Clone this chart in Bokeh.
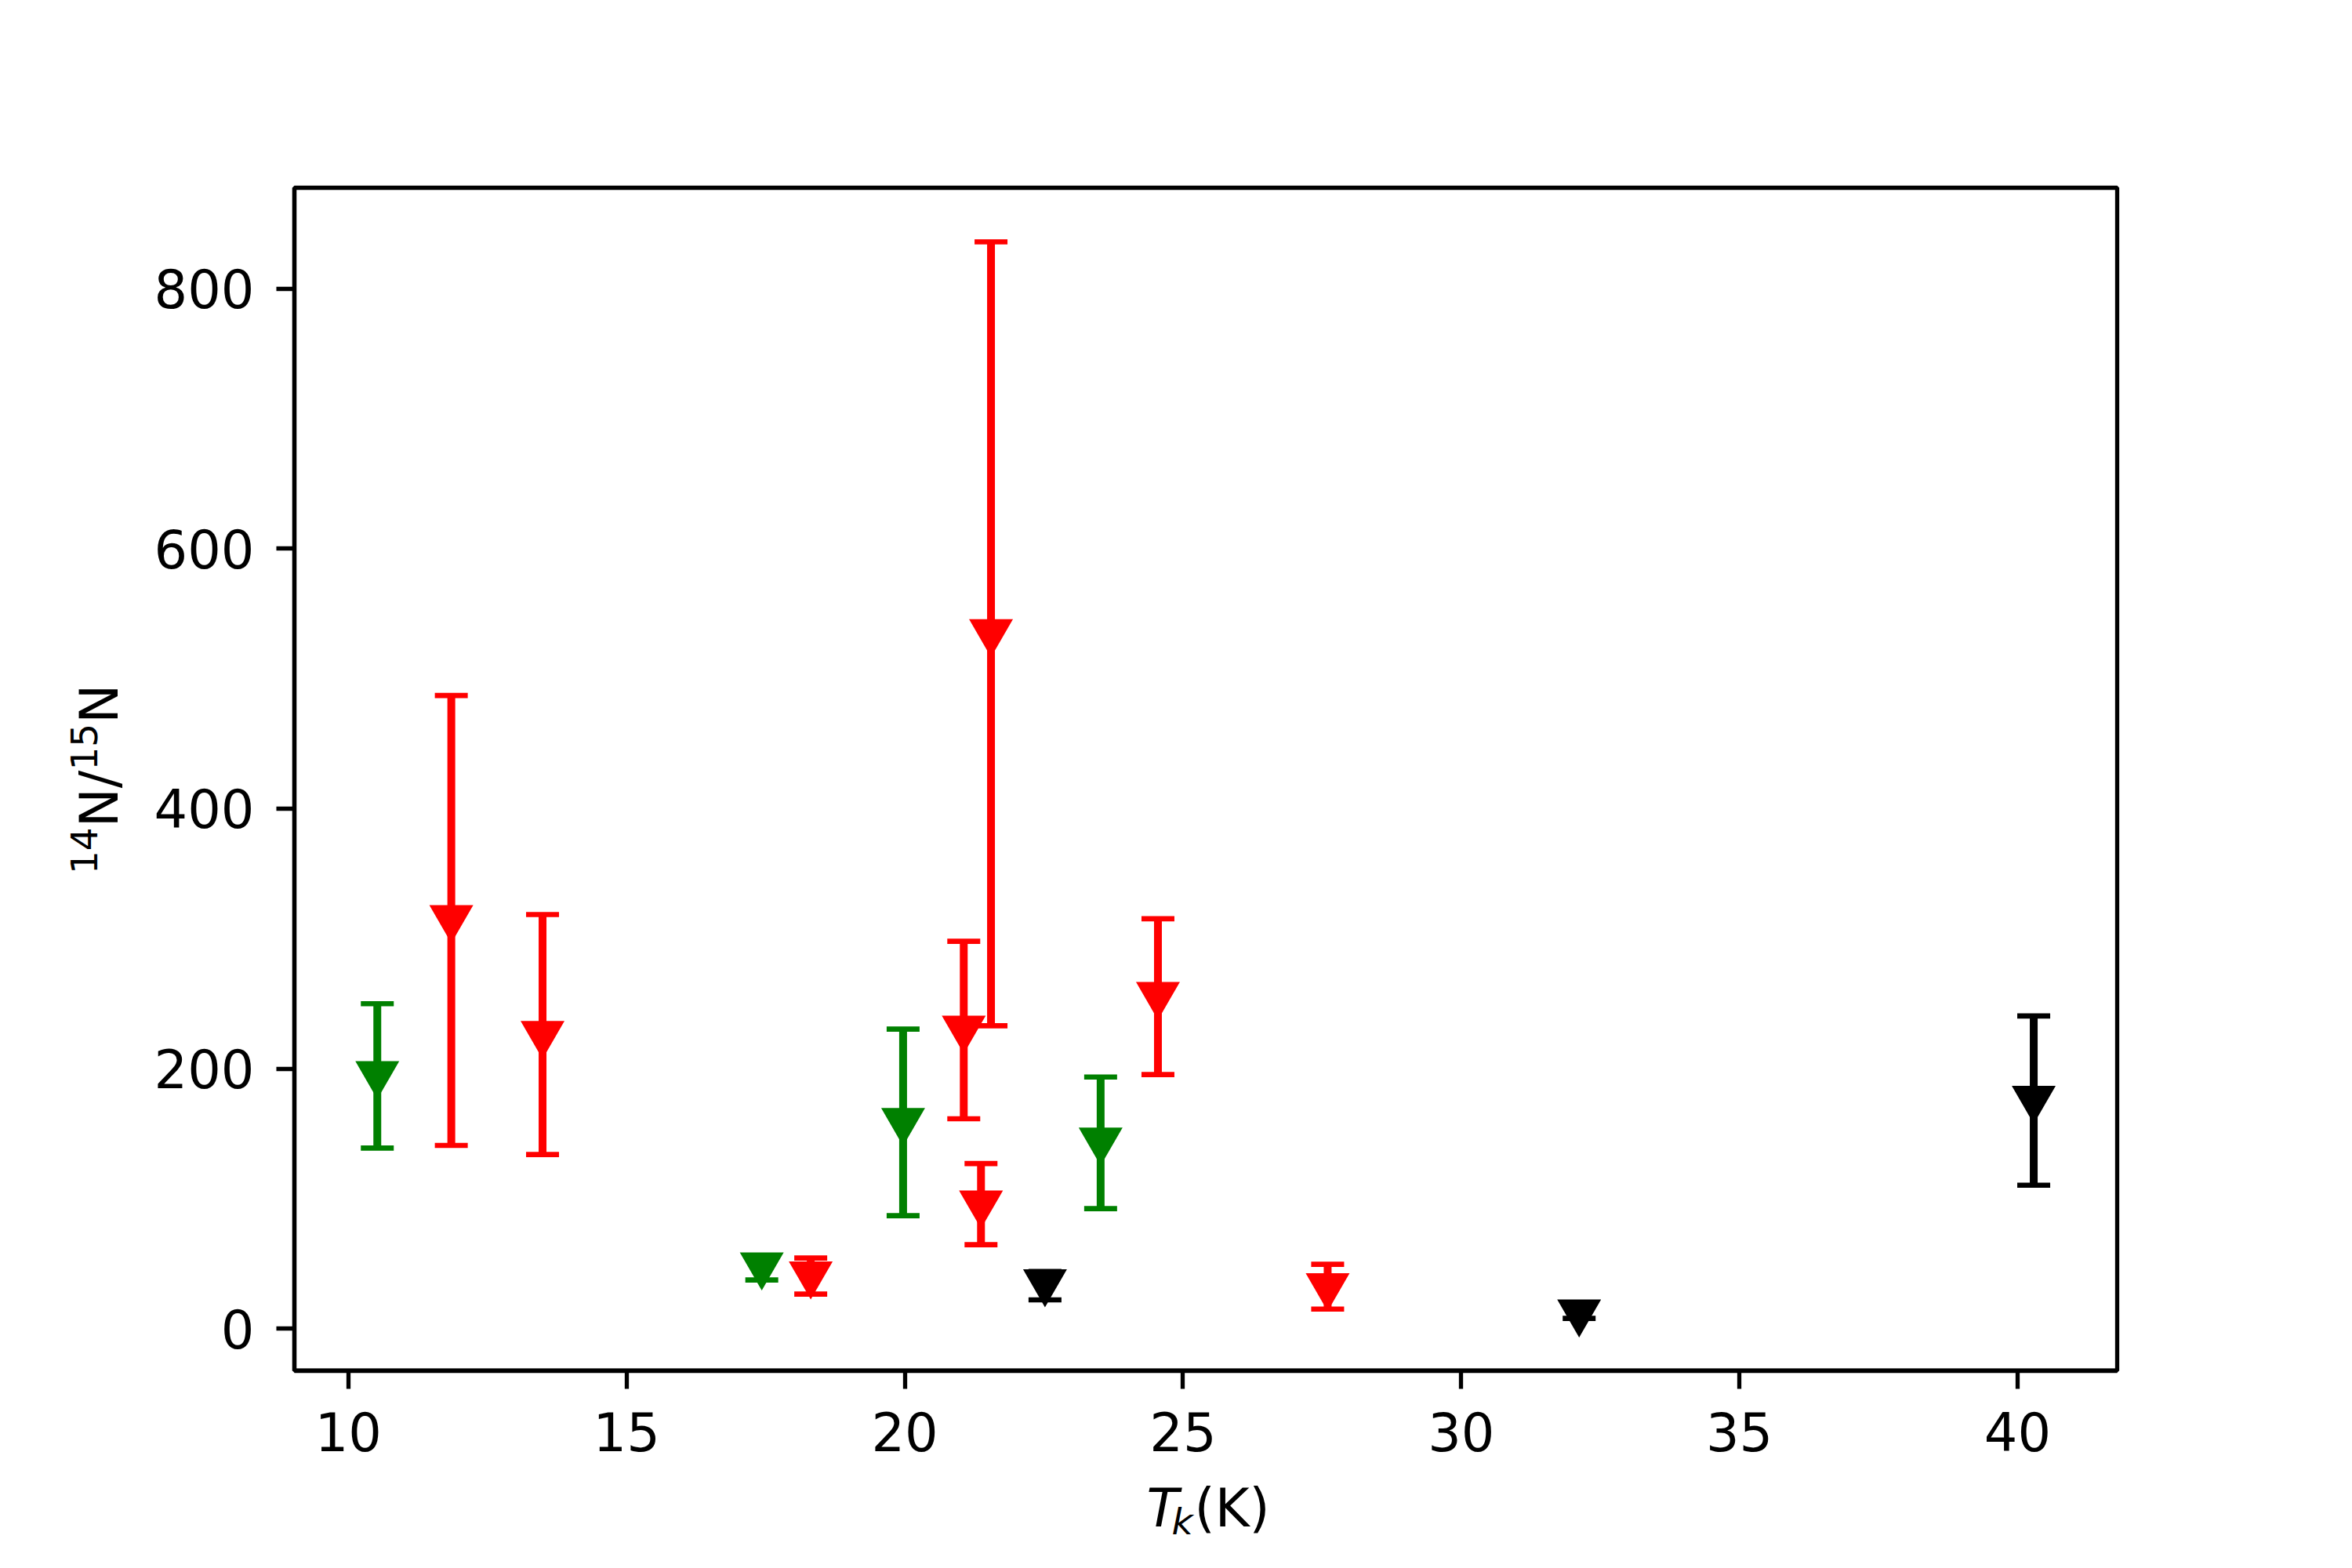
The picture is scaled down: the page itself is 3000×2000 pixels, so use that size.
from bokeh.plotting import figure
from bokeh.models import (ColumnDataSource, Whisker, TeeHead, Range1d, FixedTicker, Label, BoxAnnotation)
from bokeh.embed import file_html
from bokeh.resources import INLINE

# ---- data ----
green_tk = [10.52, 17.43, 19.97, 23.52]
green_ratio = [196, 49, 160, 145]
green_low = [139, 37.5, 87, 92.4]
green_high = [250, 55, 230.5, 193.6]

red_tk = [11.85, 13.49, 18.31, 21.06, 21.37, 21.55, 24.55, 27.60]
red_ratio = [316, 227, 42, 231, 96.5, 536, 257, 33]
red_low = [141, 134, 26.7, 161.5, 64.6, 233, 195.5, 15.1]
red_high = [487, 318.6, 54.4, 298, 127, 836, 315.3, 49.6]

black_tk = [22.52, 32.12, 40.29]
black_ratio = [36, 12.7, 177]
black_low = [22.2, 8.0, 110.4]
black_high = [44, 19, 240.6]

x_ticks = [10, 15, 20, 25, 30, 35, 40]
y_ticks = [0, 200, 400, 600, 800]

series = [
    ("green", green_tk, green_ratio, green_low, green_high),
    ("red", red_tk, red_ratio, red_low, red_high),
    ("black", black_tk, black_ratio, black_low, black_high),
]

FONT = "DejaVu Sans"
FS_PX, FS_SMALL_PX = 67, 47
FS = f"{FS_PX}px"
FS_SMALL = f"{FS_SMALL_PX}px"
BASE_FIX = 0.36  # empirical baseline correction (em)

# axes box (data limits) and where it sits on the canvas (pixels)
X0, X1 = 9.03, 41.79
Y0, Y1 = -32.2, 877.6
W, H = 2984, 1984
BOX_L, BOX_R, BOX_T, BOX_B = 375, 2700, 239, 1747.7

ax_px = (BOX_R - BOX_L) / (X1 - X0)
ay_px = (BOX_B - BOX_T) / (Y1 - Y0)
XS = X0 - BOX_L / ax_px
XE = X0 + (W - BOX_L) / ax_px
YE = Y1 + BOX_T / ay_px
YS = Y1 - (H - BOX_T) / ay_px

def cx(px):  # canvas pixel x -> data x
    return XS + px / ax_px

def cy(py):  # canvas pixel y (from top) -> data y
    return YE - py / ay_px

p = figure(width=W, height=H, output_backend="svg", toolbar_location=None,
           x_range=Range1d(XS, XE), y_range=Range1d(YS, YE),
           min_border=0, min_border_left=0, min_border_right=0,
           min_border_top=0, min_border_bottom=0)
p.background_fill_color = "white"
p.border_fill_color = "white"
p.outline_line_color = None
p.xgrid.visible = False
p.ygrid.visible = False

p.xaxis.ticker = FixedTicker(ticks=x_ticks)
p.yaxis.ticker = FixedTicker(ticks=y_ticks)
p.xaxis.fixed_location = Y0
p.yaxis.fixed_location = X0
p.xaxis.bounds = (X0, X1)
p.yaxis.bounds = (Y0, Y1)
for ax in (p.xaxis[0], p.yaxis[0]):
    ax.axis_line_width = 5.3
    ax.axis_line_color = "black"
    ax.major_tick_out = 23
    ax.major_tick_in = 0
    ax.major_tick_line_width = 5.3
    ax.major_tick_line_color = "black"
    ax.minor_tick_out = 0
    ax.minor_tick_in = 0
    ax.major_label_text_font = FONT
    ax.major_label_text_font_size = FS
    ax.major_label_text_color = "black"
p.xaxis.major_label_standoff = 30
p.yaxis.major_label_standoff = 28

# axes box
p.add_layout(BoxAnnotation(left=X0, right=X1, bottom=Y0, top=Y1, fill_color=None,
                           fill_alpha=0, line_color="black", line_alpha=1.0,
                           line_width=5.3, level="overlay"))

for color, xs, ys, lo, hi in series:
    src = ColumnDataSource(dict(x=xs, y=ys, lower=lo, upper=hi))
    w = Whisker(source=src, base="x", lower="lower", upper="upper", dimension="height",
                line_color=color, line_width=10,
                upper_head=TeeHead(size=42, line_width=6.7, line_color=color),
                lower_head=TeeHead(size=42, line_width=6.7, line_color=color))
    p.add_layout(w)
    p.scatter("x", "y", source=src, marker="inverted_triangle", size=56,
              fill_color=color, line_color=color, line_width=0)

# ---- x axis label: T_k(K) ----
xl = dict(text_font=FONT, text_color="black", text_baseline="alphabetic", text_align="left")
fb, fs = BASE_FIX * FS_PX, BASE_FIX * FS_SMALL_PX
p.add_layout(Label(x=cx(1462), y=cy(1947.3 - fb), text="T", text_font_size=FS, text_font_style="italic", **xl))
p.add_layout(Label(x=cx(1494), y=cy(1957.0 - fs), text="k", text_font_size=FS_SMALL, text_font_style="italic", **xl))
p.add_layout(Label(x=cx(1523), y=cy(1947.3 - fb), text="(K)", text_font_size=FS, **xl))

# ---- y axis label: 14N/15N (rotated) ----
yl = dict(text_font=FONT, text_color="black", text_baseline="alphabetic", text_align="left",
          angle=1.5707963267948966)
p.add_layout(Label(x=cx(123.3 - fs), y=cy(1114.6), text="14", text_font_size=FS_SMALL, **yl))
p.add_layout(Label(x=cx(150.7 - fb), y=cy(1054.8), text="N/", text_font_size=FS, **yl))
p.add_layout(Label(x=cx(123.3 - fs), y=cy(982.1), text="15", text_font_size=FS_SMALL, **yl))
p.add_layout(Label(x=cx(150.7 - fb), y=cy(922.3), text="N", text_font_size=FS, **yl))

open("out.html", "w").write(file_html(p, INLINE))
